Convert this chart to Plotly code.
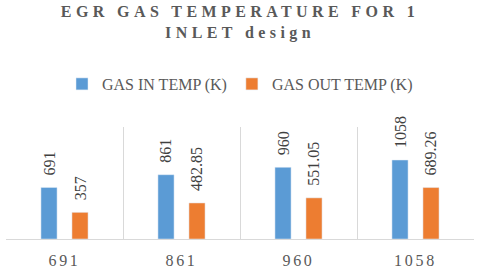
import plotly.graph_objects as go

categories = ["691", "861", "960", "1058"]
gas_in = [691, 861, 960, 1058]
gas_out = [357, 482.85, 551.05, 689.26]
series_names = ["GAS IN TEMP (K)", "GAS OUT TEMP (K)"]
title_text = "EGR GAS TEMPERATURE FOR 1<br>INLET design"

BLUE = "#5B9BD5"
ORANGE = "#ED7D31"
FONT = "Liberation Serif, Times New Roman, serif"
bargap = 0.47
slot = (1 - bargap) / 2

fig = go.Figure()
fig.add_trace(go.Bar(x=categories, y=gas_in, name=series_names[0], marker_color=BLUE))
fig.add_trace(go.Bar(x=categories, y=gas_out, name=series_names[1], marker_color=ORANGE))

annotations = []
for vals, shift in ((gas_in, -slot / 2), (gas_out, slot / 2)):
    for i, v in enumerate(vals):
        annotations.append(dict(
            x=i + shift, y=v, xref="x", yref="y", text=f"{v:g}",
            textangle=-90, showarrow=False, yanchor="bottom", yshift=10,
            font=dict(family=FONT, size=16, color="#404040"),
        ))

fig.update_layout(
    width=480, height=271,
    margin=dict(l=6, r=6, t=127, b=32),
    paper_bgcolor="white", plot_bgcolor="white",
    font=dict(family=FONT),
    barmode="group", bargap=bargap, bargroupgap=0.48,
    title=dict(text=title_text, x=0.5, xanchor="center", y=0.937, yref="container", yanchor="top",
               font=dict(family=FONT, size=16, color="#595959", weight="bold")),
    legend=dict(orientation="h", x=0.5, xanchor="center", y=1.384, yanchor="middle", itemwidth=30,
                font=dict(family=FONT, size=16, color="#595959"), bgcolor="rgba(0,0,0,0)"),
    annotations=annotations,
    xaxis=dict(type="category", tickson="boundaries", showgrid=True, gridcolor="#D9D9D9", gridwidth=1,
               showline=True, linecolor="#D9D9D9", ticks="", ticklabelstandoff=7, automargin=False,
               tickfont=dict(family=FONT, size=16, color="#595959")),
    yaxis=dict(range=[0, 1500], showgrid=False, showticklabels=False, zeroline=False, showline=False,
               automargin=False),
)

post = """
document.body.style.margin='0';
document.querySelectorAll('.gtitle').forEach(function(e){e.style.letterSpacing='4.4px';});
document.querySelectorAll('.xtick text').forEach(function(e){e.style.letterSpacing='2.7px';});
"""
fig.write_html("out.html", post_script=post, config={"displayModeBar": False})
